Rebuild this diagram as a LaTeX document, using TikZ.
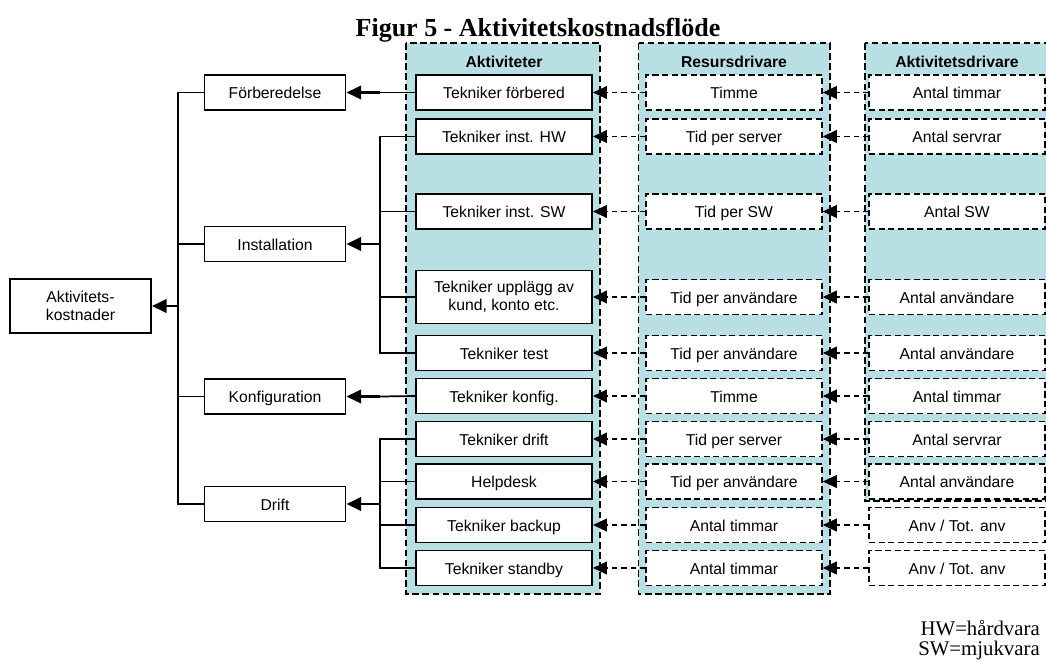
\documentclass[tikz,border=0pt]{standalone}
\usepackage{fontspec}
\setmainfont{Liberation Sans}
\newfontfamily\serifface{Liberation Serif}
\usetikzlibrary{arrows.meta}
\definecolor{panelteal}{RGB}{184,223,227}
\begin{document}
\begin{tikzpicture}[x=0.75pt,y=-0.75pt,
  every node/.style={font=\fontsize{11.8}{13.6}\selectfont, inner sep=0pt, align=center},
  oneline/.style={text height=10pt, text depth=0.4pt},
  panel/.style={draw, fill=panelteal, line width=1.1pt, dash pattern=on 5pt off 2.6pt},
  header/.style={oneline, font=\fontsize{11.8}{13.6}\selectfont\bfseries},
  actbox/.style={oneline, draw, fill=white, line width=1.4pt, minimum width=132pt, minimum height=26.25pt},
  drvbox/.style={oneline, draw, fill=white, line width=1.15pt, dash pattern=on 4.6pt off 2.6pt,
                 minimum width=132pt, minimum height=26.25pt},
  sumbox/.style={oneline, draw, fill=white, line width=1.4pt, minimum width=105.75pt, minimum height=26.25pt},
  twoline/.style={text height=, text depth=},
  tree/.style={line width=1.3pt},
  feed/.style={line width=2pt, -{Triangle[length=11pt,width=10pt]}},
  dep/.style={line width=1.4pt, dash pattern=on 4pt off 3pt, -{Triangle[length=10.5pt,width=9.5pt]}}
]
\useasboundingbox (0,0) rectangle (1046,661);

% title
\node[anchor=base, font=\serifface\fontsize{19.5}{22}\selectfont\bfseries] (title) at (538,36)
  {Figur 5 - Aktivitetskostnadsflöde};

% column panels
\draw[panel] (406,43) rectangle (600,594);
\draw[panel] (638.5,43) rectangle (830,594);
\draw[panel] (865,43) rectangle (1052,501);
\node[header] (hA) at (504,61) {Aktiviteter};
\node[header] (hR) at (734,61) {Resursdrivare};
\node[header] (hD) at (957,61) {Aktivitetsdrivare};

% activities
\node[actbox] (a1) at (504,92.5) {Tekniker förbered};
\node[actbox] (a2) at (504,136.5) {Tekniker inst. HW};
\node[actbox] (a3) at (504,211.5) {Tekniker inst. SW};
\node[actbox, twoline, minimum height=39.75pt] (a4) at (504,297) {Tekniker upplägg av\\kund, konto etc.};
\node[actbox] (a5) at (504,353) {Tekniker test};
\node[actbox] (a6) at (504,396) {Tekniker konfig.};
\node[actbox] (a7) at (504,439) {Tekniker drift};
\node[actbox] (a8) at (504,481.5) {Helpdesk};
\node[actbox] (a9) at (504,525) {Tekniker backup};
\node[actbox] (a10) at (504,568) {Tekniker standby};

% resource drivers
\node[drvbox] (r1) at (734,92.5) {Timme};
\node[drvbox] (r2) at (734,136.5) {Tid per server};
\node[drvbox] (r3) at (734,211.5) {Tid per SW};
\node[drvbox] (r4) at (734,297) {Tid per användare};
\node[drvbox] (r5) at (734,353) {Tid per användare};
\node[drvbox] (r6) at (734,396) {Timme};
\node[drvbox] (r7) at (734,439) {Tid per server};
\node[drvbox] (r8) at (734,481.5) {Tid per användare};
\node[drvbox] (r9) at (734,525) {Antal timmar};
\node[drvbox] (r10) at (734,568) {Antal timmar};

% activity drivers
\node[drvbox] (d1) at (957,92.5) {Antal timmar};
\node[drvbox] (d2) at (957,136.5) {Antal servrar};
\node[drvbox] (d3) at (957,211.5) {Antal SW};
\node[drvbox] (d4) at (957,297) {Antal användare};
\node[drvbox] (d5) at (957,353) {Antal användare};
\node[drvbox] (d6) at (957,396) {Antal timmar};
\node[drvbox] (d7) at (957,439) {Antal servrar};
\node[drvbox] (d8) at (957,481.5) {Antal användare};
\node[drvbox] (d9) at (957,525) {Anv / Tot. anv};
\node[drvbox] (d10) at (957,568) {Anv / Tot. anv};

% cost groups
\node[sumbox] (foerb) at (275,92.5) {Förberedelse};
\node[sumbox] (inst) at (275,244) {Installation};
\node[sumbox] (konf) at (275,396.5) {Konfiguration};
\node[sumbox] (drift) at (275,504) {Drift};
\node[sumbox, twoline, minimum height=40.5pt] (total) at (80.5,306) {Aktivitets-\\kostnader};

% junction points
\coordinate (trunk) at (178,306);
\coordinate (busF) at (380,92.5);
\coordinate (busI) at (380,244);
\coordinate (busK) at (380,396.5);
\coordinate (busD) at (380,504);

% drivers feeding activities
\foreach \i in {1,...,10} {
  \draw[dep] (d\i.west) -- (r\i.east);
  \draw[dep] (r\i.west) -- (a\i.east);
}

% activities rolled up into cost groups
\draw[tree] (a1.west) -- (busF);
\draw[feed] (busF) -- (foerb.east);

\draw[tree] (a2.west) -- (a2.west -| busI) -- (a5.west -| busI) -- (a5.west);
\draw[tree] (a3.west) -- (a3.west -| busI);
\draw[tree] (a4.west) -- (a4.west -| busI);
\draw[feed] (busI) -- (inst.east);

\draw[tree] (a6.west) -- (busK);
\draw[feed] (busK) -- (konf.east);

\draw[tree] (a7.west) -- (a7.west -| busD) -- (a10.west -| busD) -- (a10.west);
\draw[tree] (a8.west) -- (a8.west -| busD);
\draw[tree] (a9.west) -- (a9.west -| busD);
\draw[feed] (busD) -- (drift.east);

% cost groups rolled up into the total
\draw[tree] (foerb.west) -- (foerb.west -| trunk) -- (drift.west -| trunk) -- (drift.west);
\draw[tree] (inst.west) -- (inst.west -| trunk);
\draw[tree] (konf.west) -- (konf.west -| trunk);
\draw[feed] (trunk) -- (total.east);

% abbreviations
\node[anchor=base east, font=\serifface\fontsize{15.6}{18}\selectfont] (noteHW) at (1040,635) {HW=hårdvara};
\node[anchor=base east, font=\serifface\fontsize{15.6}{18}\selectfont] (noteSW) at (1040,655) {SW=mjukvara};
\end{tikzpicture}
\end{document}
